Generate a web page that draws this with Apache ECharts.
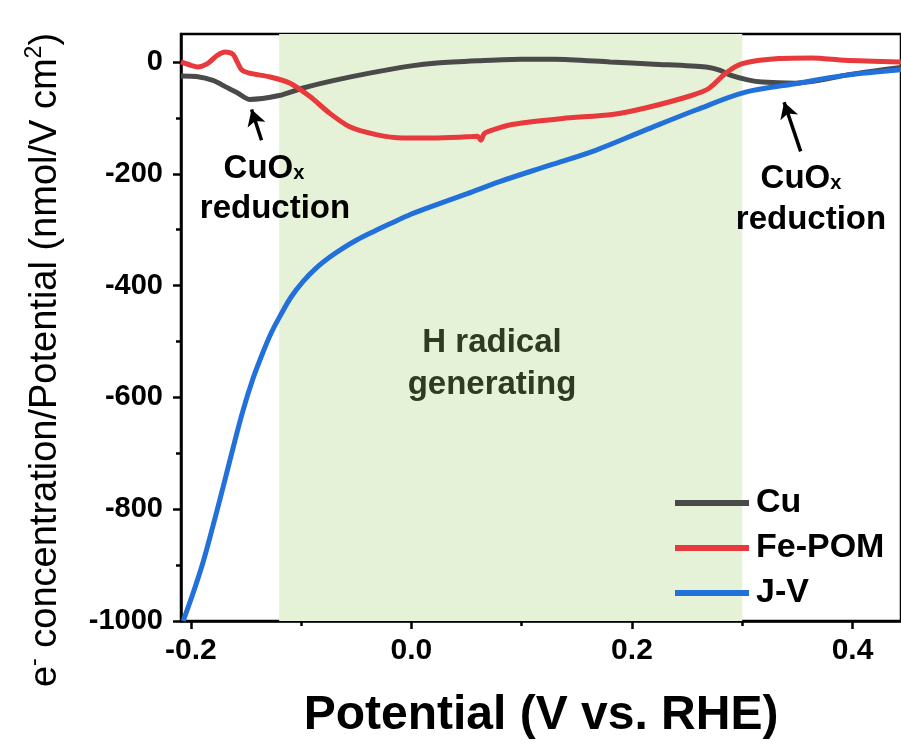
<!DOCTYPE html>
<html>
<head>
<meta charset="utf-8">
<script src="https://cdn.jsdelivr.net/npm/echarts@6/dist/echarts.min.js"></script>
<style>
html,body{margin:0;padding:0;background:#fff;}
#chart{width:901px;height:749px;}
</style>
</head>
<body>
<div id="chart"></div>
<script>
// ---- Data ----
const cuPotential = [-0.209,-0.195,-0.18,-0.168,-0.158,-0.147,-0.12,-0.099,-0.07,-0.038,0.0,0.023,0.06,0.1,0.13,0.18,0.22,0.267,0.28,0.29,0.305,0.318,0.348,0.37,0.393,0.42,0.444];
const cuValues    = [-25,-26,-33,-45,-55,-67,-60,-47,-33,-20,-7,-2,2,5,5,0,-4,-9,-15,-24,-32,-36,-38,-33,-24,-16,-10];

const fePotential = [-0.209,-0.2,-0.194,-0.185,-0.176,-0.169,-0.162,-0.158,-0.154,-0.147,-0.128,-0.11,-0.092,-0.074,-0.056,-0.032,-0.008,0.02,0.05,0.06,0.063,0.066,0.07,0.091,0.137,0.182,0.213,0.254,0.27,0.285,0.3,0.333,0.363,0.393,0.444];
const feValues    = [0,-6,-9,-3,12,18,14,0,-14,-20,-27,-38,-62,-92,-116,-130,-136,-136,-134,-133,-140,-128,-124,-112,-101,-94,-82,-60,-47,-20,-3,6,7,3,0];

const jvPotential = [-0.207,-0.198,-0.189,-0.18,-0.171,-0.162,-0.153,-0.144,-0.135,-0.127,-0.119,-0.109,-0.098,-0.086,-0.074,-0.062,-0.05,-0.035,-0.02,0.0,0.016,0.05,0.08,0.125,0.167,0.212,0.258,0.303,0.348,0.393,0.444];
const jvValues    = [-1000,-950,-895,-830,-762,-692,-625,-568,-521,-484,-454,-420,-392,-368,-349,-333,-319,-304,-290,-272,-260,-236,-214,-185,-158,-122,-86,-54,-39,-24,-14];

const seriesNames = ['Cu','Fe-POM','J-V'];
const hRegion = [-0.12, 0.30];

const xLabelTicks = [-0.2, 0.0, 0.2, 0.4];
const xMinorTicks = [-0.1, 0.1, 0.3];
const yLabelTicks = [-1000, -800, -600, -400, -200, 0];
const yMinorTicks = [-900, -700, -500, -300, -100];
const xRange = [-0.209, 0.444];
const yRange = [-1000, 50];

// annotation arrows: [tail, head] in data coordinates
const arrow1 = [[-0.136, -140], [-0.145, -85]];
const arrow2 = [[0.353, -160], [0.338, -72]];

const zip = (a, b) => a.map((v, i) => [v, b[i]]);

const FONT = '"Liberation Sans", Arial, sans-serif';
const colors = ['#4a4a4a', '#e8393c', '#2270da'];

const chart = echarts.init(document.getElementById('chart'), null, {renderer: 'canvas'});

const baseX = {
  type: 'value', min: xRange[0], max: xRange[1], gridIndex: 0,
  splitLine: {show: false}
};
const baseY = {
  type: 'value', min: yRange[0], max: yRange[1], gridIndex: 0,
  splitLine: {show: false}
};

const subText = {
  a: {fontFamily: FONT, fontWeight: 'bold', fontSize: 33, fill: '#000', lineHeight: 36, verticalAlign: 'bottom'},
  b: {fontFamily: FONT, fontWeight: 'bold', fontSize: 20, fill: '#000', lineHeight: 36, verticalAlign: 'bottom', padding: [0, 0, 2, 0]}
};

const option = {
  backgroundColor: '#fff',
  animation: false,
  grid: {left: 181, top: 34, width: 722, height: 587, show: true, borderColor: '#000', borderWidth: 2.5, backgroundColor: 'transparent'},
  legend: {
    data: seriesNames, orient: 'vertical', left: 670, top: 481,
    icon: 'rect', itemWidth: 74, itemHeight: 6, itemGap: 11,
    textStyle: {fontFamily: FONT, fontWeight: 'bold', fontSize: 34, color: '#000', lineHeight: 34, padding: [0, 0, 0, 2]}
  },
  xAxis: [
    Object.assign({}, baseX, {
      position: 'bottom',
      name: 'Potential (V vs. RHE)', nameLocation: 'middle', nameGap: 71,
      nameTextStyle: {fontFamily: FONT, fontWeight: 'bold', fontSize: 48, color: '#000'},
      axisLine: {show: true, onZero: false, lineStyle: {color: '#000', width: 2.5}},
      axisTick: {show: true, inside: false, length: 8, customValues: xLabelTicks, lineStyle: {color: '#000', width: 2.5}},
      axisLabel: {show: true, customValues: xLabelTicks, margin: 15, formatter: v => v.toFixed(1),
        fontFamily: FONT, fontWeight: 'bold', fontSize: 30, color: '#000'}
    }),
    Object.assign({}, baseX, {
      position: 'bottom',
      axisLine: {show: false, onZero: false},
      axisTick: {show: true, inside: false, length: 5, customValues: xMinorTicks, lineStyle: {color: '#000', width: 2.5}},
      axisLabel: {show: false}
    })
  ],
  yAxis: [
    Object.assign({}, baseY, {
      position: 'left',
      axisLine: {show: true, onZero: false, lineStyle: {color: '#000', width: 2.5}},
      axisTick: {show: true, inside: false, length: 8, customValues: yLabelTicks, lineStyle: {color: '#000', width: 2.5}},
      axisLabel: {show: true, customValues: yLabelTicks, margin: 18, formatter: v => String(v),
        fontFamily: FONT, fontWeight: 'bold', fontSize: 29, color: '#000'}
    }),
    Object.assign({}, baseY, {
      position: 'left',
      axisLine: {show: false, onZero: false},
      axisTick: {show: true, inside: false, length: 5, customValues: yMinorTicks, lineStyle: {color: '#000', width: 2.5}},
      axisLabel: {show: false}
    })
  ],
  series: [
    {
      name: 'region', type: 'line', data: [], z: 1, silent: true,
      markArea: {silent: true, itemStyle: {color: '#e6f2d8'}, data: [[{xAxis: hRegion[0]}, {xAxis: hRegion[1]}]]}
    },
    {
      name: seriesNames[0], type: 'line', data: zip(cuPotential, cuValues), smooth: 0.25,
      showSymbol: false, z: 3, color: colors[0], lineStyle: {width: 5, color: colors[0]}
    },
    {
      name: seriesNames[1], type: 'line', data: zip(fePotential, feValues), smooth: 0.25,
      showSymbol: false, z: 4, color: colors[1], lineStyle: {width: 5, color: colors[1]}
    },
    {
      name: seriesNames[2], type: 'line', data: zip(jvPotential, jvValues), smooth: 0.35,
      showSymbol: false, z: 5, color: colors[2], lineStyle: {width: 5, color: colors[2]},
      markLine: {
        silent: true, symbol: ['none', 'arrow'], symbolSize: [14, 16], label: {show: false},
        lineStyle: {color: '#000', width: 3.5, type: 'solid'},
        data: [
          [{coord: arrow1[0]}, {coord: arrow1[1]}],
          [{coord: arrow2[0]}, {coord: arrow2[1]}]
        ]
      }
    }
  ],
  graphic: [
    {
      type: 'text', x: 44, y: 360, rotation: Math.PI / 2, z: 100,
      style: {
        text: '{n|e}{s|-}{n| concentration/Potential (nmol/V cm}{s|2}{n|)}',
        align: 'center', verticalAlign: 'middle',
        rich: {
          n: {fontFamily: FONT, fontSize: 38, fill: '#000', lineHeight: 42, verticalAlign: 'bottom'},
          s: {fontFamily: FONT, fontSize: 23, fill: '#000', lineHeight: 42, verticalAlign: 'top'}
        }
      }
    },
    {
      type: 'text', x: 264, y: 167, z: 100,
      style: {text: '{a|CuO}{b|x}', align: 'center', verticalAlign: 'middle', rich: subText}
    },
    {
      type: 'text', x: 275, y: 209, z: 100,
      style: {text: 'reduction', align: 'center', verticalAlign: 'middle', fontFamily: FONT, fontWeight: 'bold', fontSize: 33, fill: '#000'}
    },
    {
      type: 'text', x: 801, y: 177, z: 100,
      style: {text: '{a|CuO}{b|x}', align: 'center', verticalAlign: 'middle', rich: subText}
    },
    {
      type: 'text', x: 811, y: 220, z: 100,
      style: {text: 'reduction', align: 'center', verticalAlign: 'middle', fontFamily: FONT, fontWeight: 'bold', fontSize: 33, fill: '#000'}
    },
    {
      type: 'text', x: 492, y: 364, z: 100,
      style: {text: 'H radical\ngenerating', align: 'center', verticalAlign: 'middle', lineHeight: 42, fontFamily: FONT, fontWeight: 'bold', fontSize: 33, fill: '#2e3b22'}
    }
  ]
};

chart.setOption(option);
</script>
</body>
</html>
